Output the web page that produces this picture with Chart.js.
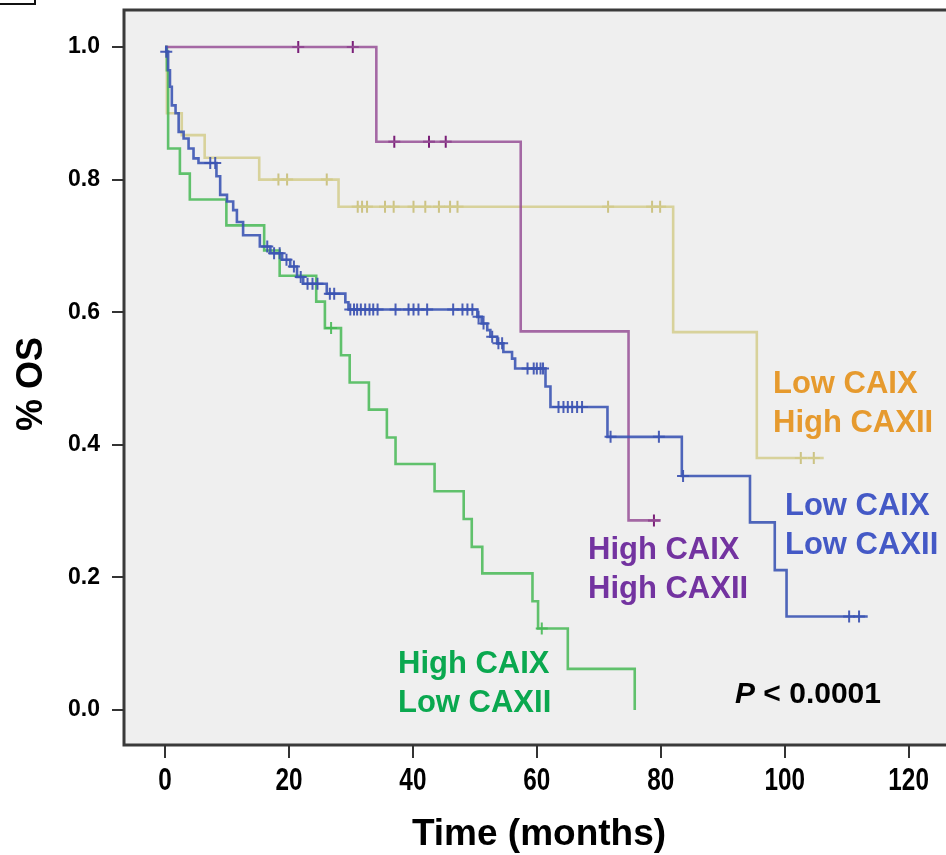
<!DOCTYPE html>
<html>
<head>
<meta charset="utf-8">
<script src="https://cdn.jsdelivr.net/npm/chart.js@4.4.1/dist/chart.umd.min.js"></script>
<style>
  html, body { margin: 0; padding: 0; background: #fff; overflow: hidden; }
  #wrap { position: relative; width: 946px; height: 855px; overflow: hidden; }
  #os-chart { position: absolute; left: 0; top: 0; }
  .panel-box { position: absolute; left: -10px; top: -20px; width: 42px; height: 21px; border: 2px solid #111; }
</style>
</head>
<body>
<div id="wrap">
  <canvas id="os-chart" width="960" height="855"></canvas>
  <div class="panel-box"></div>
</div>
<script>
// ── axis ticks ──
const xTicks = [0, 20, 40, 60, 80, 100, 120];
const yTicks = [0.0, 0.2, 0.4, 0.6, 0.8, 1.0];

// ── Kaplan-Meier steps: time of each drop and survival after it ──
// High CAIX / High CAXII (purple)
const hhT = [0, 34.1, 57.4, 74.8, 80.0];
const hhS = [1.0, 0.857, 0.571, 0.286, 0.286];
const hhCens = [21.5, 30.3, 37.0, 42.6, 45.3, 78.9];

// Low CAIX / High CAXII (yellow)
const lhT = [0, 0.3, 2.7, 6.4, 15.2, 28.0, 82.0, 95.5, 106.3];
const lhS = [1.0, 0.900, 0.867, 0.833, 0.800, 0.759, 0.570, 0.380, 0.380];
const lhCens = [18.3, 19.7, 26.1, 31.1, 31.8, 32.6, 35.5, 36.9, 40.1, 42.0, 44.2, 46.0, 47.2, 71.5, 78.6, 79.9, 102.6, 104.7];

// High CAIX / Low CAXII (green)
const hlT = [0, 0.3, 0.5, 2.4, 4.0, 9.9, 16.0, 18.5, 24.4, 25.8, 28.4, 29.8, 32.9, 35.8, 37.2, 43.5, 48.2, 49.5, 51.2, 59.3, 60.2, 65.0, 75.8];
const hlS = [1.0, 0.965, 0.847, 0.809, 0.770, 0.731, 0.693, 0.655, 0.616, 0.576, 0.535, 0.494, 0.453, 0.411, 0.371, 0.330, 0.288, 0.246, 0.206, 0.164, 0.123, 0.062, 0.0];
const hlCens = [26.8, 60.8];

// Low CAIX / Low CAXII (blue)
const llT = [0, 0.2, 0.5, 0.8, 1.1, 1.7, 2.2, 3.0, 3.8, 4.6, 5.4, 8.3, 8.9, 10.0, 11.0, 11.6, 12.6, 15.3, 17.0, 18.9, 20.2, 21.3, 22.3, 26.1, 29.1, 29.6,
             50.4, 51.1, 52.0, 52.5, 53.6, 54.6, 56.0, 56.5, 61.4, 62.2, 71.4, 83.4, 94.4, 98.4, 100.3, 113.4];
const llS = [1.0, 0.993, 0.965, 0.940, 0.912, 0.900, 0.872, 0.862, 0.847, 0.832, 0.825, 0.805, 0.777, 0.767, 0.754, 0.736, 0.716, 0.699, 0.689, 0.679, 0.669, 0.653, 0.643, 0.628, 0.615, 0.604,
             0.593, 0.583, 0.573, 0.563, 0.553, 0.540, 0.530, 0.515, 0.488, 0.457, 0.412, 0.353, 0.283, 0.211, 0.141, 0.141];
const llCens = [0.2, 7.3, 8.1, 16.5, 17.6, 18.5, 19.6, 20.8, 21.9, 23.0, 23.8, 24.6, 26.6, 27.3,
                29.9, 30.5, 31.0, 31.6, 32.3, 33.0, 33.6, 34.3, 37.2, 39.3, 40.1, 40.9, 42.3, 46.5, 48.0, 48.8, 49.6, 50.6, 51.4,
                52.8, 53.8, 54.4, 58.5, 59.5, 60.0, 60.6, 61.0, 63.5, 64.3, 65.0, 65.7, 66.5, 67.3, 71.9, 79.7, 83.6, 110.4, 112.0];

const FONT = "'Liberation Sans', Arial, Helvetica, sans-serif";

function steps(ts, ss) {
    return ts.map((t, i) => ({ x: t, y: ss[i] }));
}
// censor marks sit on the curve value at that time
function censored(cs, ts, ss) {
    return cs.map(c => {
        let v = ss[0];
        for (let i = 0; i < ts.length; i++) if (ts[i] <= c) v = ss[i];
        return { x: c, y: v };
    });
}
function curve(ts, ss, color, order) {
    return { data: steps(ts, ss), showLine: true, stepped: 'before', borderColor: color, borderWidth: 2.6,
             pointRadius: 0, fill: false, order };
}
function marks(cs, ts, ss, color, order) {
    return { data: censored(cs, ts, ss), showLine: false, pointStyle: 'cross', pointRadius: 6,
             borderColor: color, pointBorderWidth: 2, backgroundColor: color, order };
}

// ═══ plot frame, grey panel, titles, labels ═══
const framePlugin = {
    id: 'frame',
    beforeDraw(chart) {
        const { ctx, chartArea: a } = chart;
        ctx.save();
        ctx.fillStyle = '#efefef';
        ctx.fillRect(a.left, a.top, a.right - a.left, a.bottom - a.top);
        ctx.strokeStyle = '#3a3a3a';
        ctx.lineWidth = 3;
        ctx.strokeRect(a.left, a.top, a.right - a.left, a.bottom - a.top);
        ctx.restore();
    },
    afterDraw(chart) {
        const { ctx } = chart;
        const xs = chart.scales.x;
        ctx.save();
        ctx.fillStyle = '#000';

        // x tick labels (condensed)
        ctx.font = 'bold 32px ' + FONT;
        ctx.textAlign = 'center';
        ctx.textBaseline = 'alphabetic';
        xTicks.forEach(v => {
            ctx.save();
            ctx.translate(xs.getPixelForValue(v), 790);
            ctx.scale(0.76, 1);
            ctx.fillText(String(v), 0, 0);
            ctx.restore();
        });

        // axis titles
        ctx.font = 'bold 37px ' + FONT;
        ctx.fillText('Time (months)', 539, 845);
        ctx.save();
        ctx.translate(42, 384);
        ctx.rotate(-Math.PI / 2);
        ctx.font = 'bold 36px ' + FONT;
        ctx.fillText('% OS', 0, 0);
        ctx.restore();

        // group labels
        ctx.textAlign = 'left';
        ctx.font = 'bold 31px ' + FONT;
        const labels = [
            ['Low CAIX', 'High CAXII', '#e69a2e', 773, 393],
            ['Low CAIX', 'Low CAXII', '#4459c6', 785, 515],
            ['High CAIX', 'High CAXII', '#7333a0', 588, 559],
            ['High CAIX', 'Low CAXII', '#0aa84f', 398, 673],
        ];
        labels.forEach(([a, b, c, x, y]) => {
            ctx.fillStyle = c;
            ctx.fillText(a, x, y);
            ctx.fillText(b, x, y + 39);
        });

        // p value
        ctx.fillStyle = '#000';
        ctx.font = 'italic bold 30px ' + FONT;
        ctx.fillText('P', 735, 703);
        const pw = ctx.measureText('P').width;
        ctx.font = 'bold 30px ' + FONT;
        ctx.fillText(' < 0.0001', 735 + pw, 703);
        ctx.restore();
    }
};

const chart = new Chart(document.getElementById('os-chart'), {
    type: 'scatter',
    data: {
        datasets: [
            curve(lhT, lhS, 'rgba(212,204,140,0.85)', 5),
            marks(lhCens, lhT, lhS, 'rgba(200,190,120,0.9)', 5),
            curve(hlT, hlS, 'rgba(70,185,85,0.85)', 4),
            marks(hlCens, hlT, hlS, 'rgba(70,185,85,0.9)', 4),
            curve(hhT, hhS, 'rgba(150,80,150,0.85)', 3),
            marks(hhCens, hhT, hhS, '#7a1f78', 3),
            curve(llT, llS, 'rgba(60,85,180,0.9)', 2),
            marks(llCens, llT, llS, 'rgba(55,78,175,0.9)', 2),
        ]
    },
    options: {
        responsive: false,
        animation: false,
        layout: { padding: { top: 10, right: 0, left: 0, bottom: 0 } },
        plugins: { legend: { display: false }, tooltip: { enabled: false } },
        scales: {
            x: {
                type: 'linear', min: -6.62, max: 127.0,
                afterBuildTicks: s => { s.ticks = xTicks.map(v => ({ value: v })); },
                afterFit: s => { s.height = 110; s.paddingLeft = 0; s.paddingRight = 0; },
                border: { display: false },
                grid: { drawOnChartArea: false, drawTicks: true, tickLength: 13, color: '#333', lineWidth: 2 },
                ticks: { display: false }
            },
            y: {
                type: 'linear', min: -0.0528, max: 1.0558,
                afterBuildTicks: s => { s.ticks = yTicks.map(v => ({ value: v })); },
                afterFit: s => { s.width = 124; s.paddingTop = 0; s.paddingBottom = 0; },
                border: { display: false },
                grid: { drawOnChartArea: false, drawTicks: true, tickLength: 12, color: '#333', lineWidth: 2 },
                ticks: { color: '#000', padding: 12, font: { family: FONT, weight: 'bold', size: 23 },
                         callback: v => v.toFixed(1) }
            }
        }
    },
    plugins: [framePlugin]
});
</script>
</body>
</html>
